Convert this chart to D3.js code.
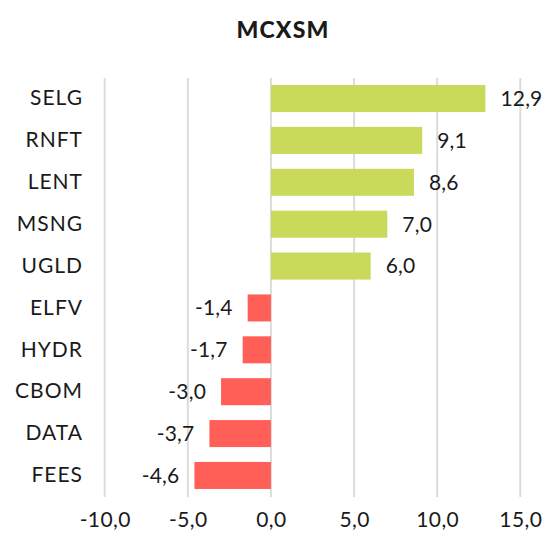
<!DOCTYPE html>
<html>
<head>
<meta charset="utf-8">
<script src="https://cdn.jsdelivr.net/npm/d3@7"></script>
<style>
  html, body { margin: 0; padding: 0; background: #fff; }
  svg { display: block; }
  text { font-family: Lato, "Open Sans", sans-serif; fill: #1a1a1a; }
</style>
</head>
<body>
<script>
const title = "MCXSM";
const categories = ["SELG", "RNFT", "LENT", "MSNG", "UGLD", "ELFV", "HYDR", "CBOM", "DATA", "FEES"];
const values = [12.9, 9.1, 8.6, 7.0, 6.0, -1.4, -1.7, -3.0, -3.7, -4.6];
const tickValues = [-10, -5, 0, 5, 10, 15];

const W = 544, H = 538;
const svg = d3.select("body").append("svg").attr("width", W).attr("height", H);

const x = d3.scaleLinear().domain([-10, 15]).range([104.7, 520.3]);
const y = d3.scaleBand().domain(categories).range([77.5, 496.5]).paddingInner(0.355).paddingOuter(0.18);

const fmt = v => d3.format(".1f")(v).replace(".", ",").replace("−", "-");

// title
svg.append("text").attr("x", 283).attr("y", 38).attr("text-anchor", "middle")
  .style("font-weight", "900").style("font-size", "23px").style("letter-spacing", "1.2px").text(title);

// gridlines
svg.append("g").selectAll("line").data(tickValues).join("line")
  .attr("x1", d => x(d)).attr("x2", d => x(d))
  .attr("y1", 78).attr("y2", 497)
  .attr("stroke", "#dcdcdc").attr("stroke-width", 2);

// x axis labels
const xAxis = d3.axisBottom(x).tickValues(tickValues).tickFormat(fmt).tickSize(0).tickPadding(0);
const gx = svg.append("g").attr("transform", "translate(0,512)").call(xAxis);
gx.select(".domain").remove();
gx.selectAll("text").style("font-size", "21px").style("font-family", "Lato, sans-serif")
  .style("letter-spacing", "0.4px").attr("fill", "#1a1a1a");

// bars
const data = categories.map((c, i) => ({ c, v: values[i] }));
svg.append("g").selectAll("rect").data(data).join("rect")
  .attr("x", d => x(Math.min(0, d.v)))
  .attr("width", d => Math.abs(x(d.v) - x(0)))
  .attr("y", d => y(d.c))
  .attr("height", y.bandwidth())
  .attr("fill", d => d.v >= 0 ? "#c9da5a" : "#ff5f57");

// value labels
svg.append("g").selectAll("text").data(data).join("text")
  .attr("x", d => d.v >= 0 ? x(d.v) + 15 : x(d.v) - 15)
  .attr("y", d => y(d.c) + y.bandwidth() / 2)
  .attr("dy", "0.35em")
  .attr("text-anchor", d => d.v >= 0 ? "start" : "end")
  .style("font-size", "21px")
  .style("letter-spacing", "0.2px")
  .text(d => fmt(d.v));

// category labels
const yAxis = d3.axisLeft(y).tickSize(0).tickPadding(0);
const gy = svg.append("g").attr("transform", "translate(83,0)").call(yAxis);
gy.select(".domain").remove();
gy.selectAll("text").style("font-size", "21px").style("font-family", "Lato, sans-serif")
  .style("letter-spacing", "1px").attr("fill", "#1a1a1a");
</script>
</body>
</html>
